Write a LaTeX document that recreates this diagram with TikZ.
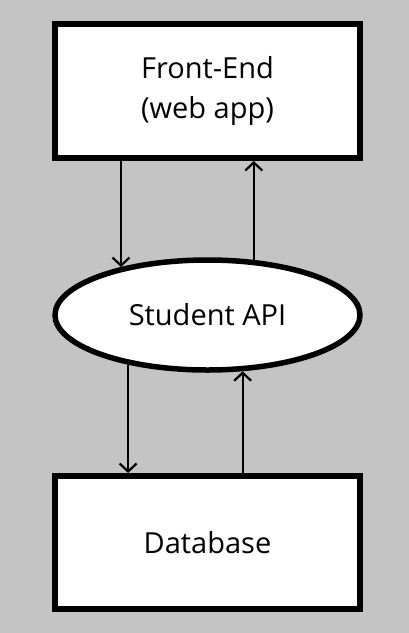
\documentclass[tikz,border=0pt]{standalone}
\usepackage{fontspec}
\setmainfont{Open Sans}
\usetikzlibrary{arrows.meta,shapes.geometric}
\definecolor{bggray}{RGB}{196,196,196}
\tikzset{
  block/.style={draw=black, fill=white, line width=6pt, minimum width=305pt, inner sep=0pt,
    font=\fontsize{29}{36}\selectfont, align=center},
  apiell/.style={ellipse, draw=black, fill=white, line width=5.5pt, minimum width=305pt,
    minimum height=110pt, inner sep=0pt, font=\fontsize{29}{36}\selectfont},
  flow/.style={line width=2.2pt, -{Straight Barb[length=8pt,width=17pt,line width=2.2pt]}}
}
\begin{document}
\begin{tikzpicture}[x=1pt,y=-1pt]
  \fill[bggray] (0,0) rectangle (409,633);
  \useasboundingbox (0,0) rectangle (409,633);
  \node[block, minimum height=134pt] (front) at (207.5,91) {Front-End\\[4pt](web app)};
  \node[apiell] (api) at (207.5,315) {Student API};
  \node[block, minimum height=133pt] (db) at (207.5,542.5) {Database};
  \draw[flow] (front.south -| api.151) -- (api.151);
  \draw[flow] (api.50) -- (front.south -| api.50);
  \draw[flow] (api.212.5) -- (db.north -| api.212.5);
  \draw[flow] (db.north -| api.302) -- (api.302);
\end{tikzpicture}
\end{document}
